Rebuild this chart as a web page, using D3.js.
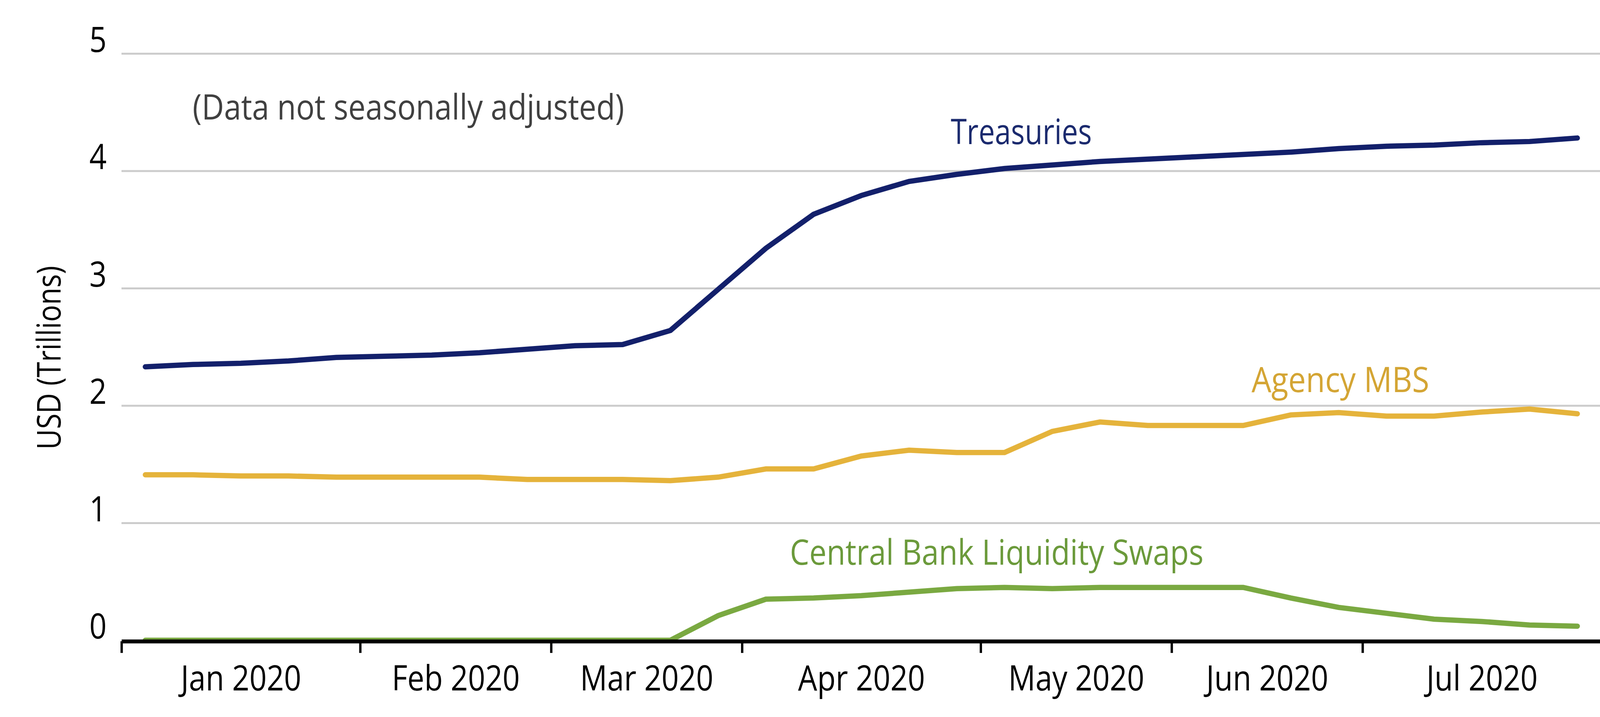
<!DOCTYPE html>
<html>
<head>
<meta charset="utf-8">
<script src="https://cdn.jsdelivr.net/npm/d3@7"></script>
<style>
  body { margin: 0; background: #fff; }
  text { font-family: "Open Sans", "Noto Sans", sans-serif; }
</style>
</head>
<body>
<div id="chart"></div>
<script>
// Weekly observations (Wednesdays), USD trillions
const weeks = [
  "2020-01-01", "2020-01-08", "2020-01-15", "2020-01-22", "2020-01-29",
  "2020-02-05", "2020-02-12", "2020-02-19", "2020-02-26",
  "2020-03-04", "2020-03-11", "2020-03-18", "2020-03-25",
  "2020-04-01", "2020-04-08", "2020-04-15", "2020-04-22", "2020-04-29",
  "2020-05-06", "2020-05-13", "2020-05-20", "2020-05-27",
  "2020-06-03", "2020-06-10", "2020-06-17", "2020-06-24",
  "2020-07-01", "2020-07-08", "2020-07-15", "2020-07-22", "2020-07-29"
];
const treasuries = [2.33, 2.35, 2.36, 2.38, 2.41, 2.42, 2.43, 2.45, 2.48, 2.51, 2.52,
  2.64, 2.99, 3.34, 3.63, 3.79, 3.91, 3.97, 4.02, 4.05, 4.08, 4.10, 4.12, 4.14,
  4.16, 4.19, 4.21, 4.22, 4.24, 4.25, 4.28];
const agencyMBS = [1.41, 1.41, 1.40, 1.40, 1.39, 1.39, 1.39, 1.39, 1.37, 1.37, 1.37,
  1.36, 1.39, 1.46, 1.46, 1.57, 1.62, 1.60, 1.60, 1.78, 1.86, 1.83, 1.83, 1.83,
  1.92, 1.94, 1.91, 1.91, 1.945, 1.97, 1.93];
const cbSwaps = [0, 0, 0, 0, 0, 0, 0, 0, 0, 0, 0, 0,
  0.21, 0.35, 0.36, 0.38, 0.41, 0.44, 0.45, 0.44, 0.45, 0.45, 0.45, 0.45,
  0.36, 0.28, 0.23, 0.18, 0.16, 0.13, 0.12];
const yTicks = [0, 1, 2, 3, 4, 5];
const monthLabels = ["Jan 2020", "Feb 2020", "Mar 2020", "Apr 2020", "May 2020", "Jun 2020", "Jul 2020"];

const width = 4168, height = 1836;
const plot = {left: 311, right: 4099, top: 137, bottom: 1639.5};
const squeeze = "scale(0.86,1)"; // narrow face like the original

const svg = d3.select("#chart")
  .append("svg")
  .attr("width", width)
  .attr("height", height)
  .attr("viewBox", [0, 0, width, height]);

// one band per week, month ticks on the band edges
const x = d3.scaleBand().domain(weeks).range([plot.left, plot.right]).padding(0);
const xi = d3.scaleLinear().domain([0, weeks.length]).range([plot.left, plot.right]);
const y = d3.scaleLinear().domain([0, 5]).range([plot.bottom, plot.top]);

const perMonth = d3.rollups(weeks, v => v.length, w => w.slice(0, 7)).map(d => d[1]);
const edges = [0];
perMonth.forEach(n => edges.push(edges[edges.length - 1] + n));
const mids = perMonth.map((n, i) => edges[i] + n / 2);

/* gridlines */
svg.append("g")
  .attr("transform", `translate(${plot.left},0)`)
  .call(d3.axisLeft(y).tickValues(yTicks.slice(1)).tickSize(-(plot.right - plot.left)).tickFormat(""))
  .call(g => g.select(".domain").remove())
  .selectAll("line")
  .attr("stroke", "#cccccc")
  .attr("stroke-width", 5);

/* y tick labels */
svg.append("g")
  .attr("transform", "translate(251,0)")
  .call(d3.axisLeft(y).tickValues(yTicks).tickSize(0).tickPadding(0).tickFormat(d3.format("d")))
  .call(g => g.select(".domain").remove())
  .attr("font-family", null)
  .attr("font-size", 90)
  .selectAll("text")
  .attr("text-anchor", "middle")
  .attr("dy", -5)
  .attr("fill", "#000")
  .attr("transform", squeeze);

/* y title */
svg.append("text")
  .attr("transform", "translate(155,916) rotate(-90) scale(0.86,1)")
  .attr("text-anchor", "middle")
  .attr("font-size", 84)
  .attr("fill", "#000")
  .text("USD (Trillions)");

/* lines */
const line = d3.line()
  .x((d, i) => x(weeks[i]) + x.bandwidth() / 2)
  .y(d => y(d));

const series = [
  {values: agencyMBS, color: "#e5b33b"},
  {values: treasuries, color: "#13206b"},
  {values: cbSwaps, color: "#7aa941"}
];
svg.append("g")
  .selectAll("path")
  .data(series)
  .join("path")
  .attr("d", d => line(d.values))
  .attr("fill", "none")
  .attr("stroke", d => d.color)
  .attr("stroke-width", 13.5)
  .attr("stroke-linejoin", "miter")
  .attr("stroke-linecap", "round");

/* x axis: ticks on month edges */
const xAxis = svg.append("g")
  .attr("transform", "translate(0,1642)")
  .call(d3.axisBottom(xi).tickValues(edges).tickSize(30).tickSizeOuter(0).tickFormat(""));
xAxis.select(".domain").attr("stroke", "#000").attr("stroke-width", 10);
xAxis.selectAll(".tick line").attr("stroke", "#000").attr("stroke-width", 6);

/* month labels centred in each month */
svg.append("g")
  .attr("transform", "translate(0,1642)")
  .call(d3.axisBottom(xi).tickValues(mids).tickSize(0).tickFormat((d, i) => monthLabels[i]))
  .call(g => g.select(".domain").remove())
  .attr("font-family", null)
  .attr("font-size", 90)
  .selectAll("text")
  .attr("y", 126)
  .attr("dy", 0)
  .attr("fill", "#000")
  .attr("transform", squeeze);

/* annotations */
const notes = [
  {text: "(Data not seasonally adjusted)", x: 493, y: 306, len: 1105, color: "#404040"},
  {text: "Treasuries", x: 2434, y: 369, len: 361, color: "#1b2a6e"},
  {text: "Agency MBS", x: 3204, y: 1004, len: 455, color: "#d4a534"},
  {text: "Central Bank Liquidity Swaps", x: 2022, y: 1446, len: 1059, color: "#6b9a3b"}
];
svg.append("g")
  .selectAll("text")
  .data(notes)
  .join("text")
  .attr("x", d => d.x)
  .attr("y", d => d.y)
  .attr("font-size", 90)
  .attr("textLength", d => d.len)
  .attr("lengthAdjust", "spacingAndGlyphs")
  .attr("fill", d => d.color)
  .text(d => d.text);
</script>
</body>
</html>
